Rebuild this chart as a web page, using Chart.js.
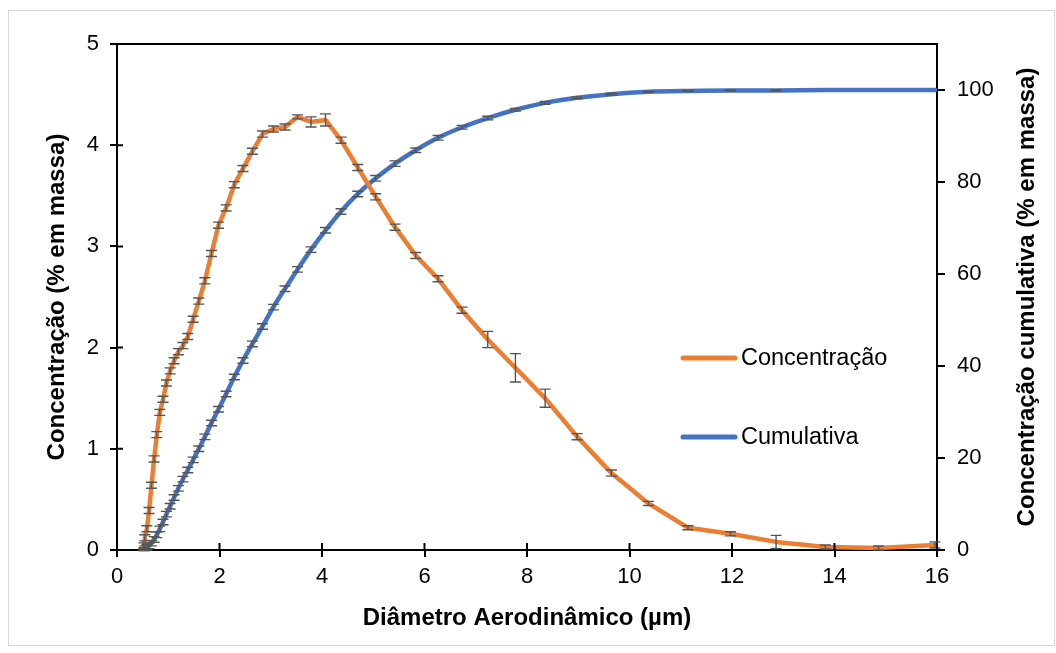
<!DOCTYPE html>
<html>
<head>
<meta charset="utf-8">
<script src="https://cdn.jsdelivr.net/npm/chart.js@4.4.0/dist/chart.umd.min.js"></script>
<style>
html,body{margin:0;padding:0;background:#fff;}
canvas{display:block;}
</style>
</head>
<body>
<canvas id="c" width="1056" height="653" style="width:1056px;height:653px"></canvas>
<script>
// ---- data ----
const diameters = [0.523,0.542,0.583,0.626,0.673,0.723,0.777,0.835,0.898,0.965,1.037,1.114,1.197,1.286,1.382,1.486,1.596,1.715,1.843,1.981,2.129,2.288,2.458,2.642,2.839,3.051,3.278,3.523,3.786,4.068,4.371,4.698,5.048,5.425,5.829,6.264,6.732,7.234,7.774,8.354,8.977,9.647,10.37,11.14,11.97,12.86,13.82,14.86,15.96];
const concentration = [0.04,0.12,0.21,0.39,0.64,0.90,1.14,1.36,1.49,1.65,1.77,1.87,1.96,2.02,2.11,2.28,2.46,2.66,2.93,3.21,3.38,3.61,3.77,3.94,4.11,4.16,4.18,4.28,4.23,4.25,4.05,3.78,3.49,3.19,2.91,2.68,2.37,2.08,1.80,1.50,1.12,0.76,0.46,0.22,0.16,0.08,0.03,0.02,0.05];
const concentrationError = [0.03,0.03,0.03,0.03,0.03,0.03,0.03,0.03,0.03,0.03,0.03,0.03,0.03,0.03,0.03,0.03,0.03,0.03,0.03,0.03,0.03,0.03,0.03,0.03,0.03,0.03,0.03,0.02,0.05,0.06,0.03,0.03,0.03,0.03,0.03,0.03,0.03,0.08,0.14,0.09,0.03,0.03,0.02,0.02,0.02,0.065,0.02,0.02,0.03];
const cumulative = [0.2,0.4,0.6,0.9,1.5,2.3,3.3,4.6,6.1,7.8,9.5,11.4,13.4,15.4,17.4,19.6,22.0,24.6,27.6,30.6,33.9,37.6,41.2,44.8,48.6,52.8,56.8,61.0,65.3,69.5,73.6,77.4,80.8,84.0,86.9,89.6,91.9,93.9,95.7,97.2,98.3,99.1,99.6,99.8,99.9,99.9,100,100,100];
const cumulativeError = [0.3,0.5,0.6,0.6,0.6,0.6,0.6,0.6,0.6,0.6,0.6,0.6,0.6,0.6,0.6,0.6,0.6,0.6,0.6,0.6,0.6,0.6,0.6,0.6,0.6,0.6,0.6,0.6,0.6,0.6,0.6,0.6,0.6,0.6,0.5,0.5,0.4,0.4,0.3,0.3,0.2,0.2,0.1,0.1,0.1,0.1,0,0,0];
const xTicks = [0,2,4,6,8,10,12,14,16];
const leftTicks = [0,1,2,3,4,5];
const rightTicks = [0,20,40,60,80,100];
const seriesLabels = ['Concentração','Cumulativa'];
const xTitle = 'Diâmetro Aerodinâmico (µm)';
const leftTitle = 'Concentração (% em massa)';
const rightTitle = 'Concentração cumulativa (% em massa)';

const FAMILY = "'Liberation Sans', Arial, sans-serif";
const TICK_FONT = {family: FAMILY, size: 22};
const TITLE_FONT = {family: FAMILY, size: 24, weight: 'bold', lineHeight: 1.2};

const errorBarPlugin = {
  id: 'errorBars',
  afterDatasetsDraw(chart) {
    const ctx = chart.ctx;
    chart.data.datasets.forEach((ds, i) => {
      const meta = chart.getDatasetMeta(i);
      const xs = chart.scales[meta.xAxisID], ys = chart.scales[meta.yAxisID];
      ctx.save();
      ctx.strokeStyle = '#555555';
      ctx.lineWidth = 1.4;
      ds.data.forEach((p, j) => {
        const e = ds.errors[j];
        if (!e) return;
        const x = xs.getPixelForValue(p.x);
        const y1 = ys.getPixelForValue(p.y - e), y2 = ys.getPixelForValue(p.y + e);
        ctx.beginPath();
        ctx.moveTo(x, y1); ctx.lineTo(x, y2);
        ctx.moveTo(x - 5.5, y1); ctx.lineTo(x + 5.5, y1);
        ctx.moveTo(x - 5.5, y2); ctx.lineTo(x + 5.5, y2);
        ctx.stroke();
      });
      ctx.restore();
    });
  }
};

const framePlugin = {
  id: 'frame',
  beforeDraw(chart) {
    const ctx = chart.ctx;
    ctx.save();
    ctx.fillStyle = '#fff';
    ctx.fillRect(0, 0, chart.width, chart.height);
    ctx.strokeStyle = '#d9d9d9';
    ctx.lineWidth = 1;
    ctx.strokeRect(8.5, 10.5, 1046, 635);
    ctx.restore();
  },
  afterDraw(chart) {
    const ctx = chart.ctx;
    const a = chart.chartArea;
    ctx.save();
    ctx.strokeStyle = '#000';
    ctx.lineWidth = 2;
    // top frame line
    ctx.beginPath();
    ctx.moveTo(a.left - 7, a.top); ctx.lineTo(a.right, a.top);
    ctx.stroke();
    // inner halves of crossing ticks
    const xs = chart.scales.x, ys = chart.scales.y;
    ctx.beginPath();
    xs.ticks.forEach(t => { const x = xs.getPixelForValue(t.value); ctx.moveTo(x, a.bottom); ctx.lineTo(x, a.bottom - 7); });
    ys.ticks.forEach(t => { const y = ys.getPixelForValue(t.value); ctx.moveTo(a.left, y); ctx.lineTo(a.left + 6, y); });
    ctx.stroke();
    // right axis title (reads bottom to top)
    ctx.fillStyle = '#000';
    ctx.font = 'bold 24px ' + FAMILY;
    ctx.textAlign = 'center';
    ctx.textBaseline = 'middle';
    ctx.translate(1027, (a.top + a.bottom) / 2);
    ctx.rotate(-Math.PI / 2);
    ctx.fillText(rightTitle, 0, 0);
    ctx.restore();
    // legend
    ctx.save();
    const legendY = [358, 437];
    chart.data.datasets.forEach((ds, i) => {
      ctx.strokeStyle = ds.borderColor;
      ctx.lineWidth = 5;
      ctx.lineCap = 'round';
      ctx.beginPath();
      ctx.moveTo(683, legendY[i]); ctx.lineTo(735, legendY[i]);
      ctx.stroke();
      ctx.fillStyle = '#000';
      ctx.font = '23.5px ' + FAMILY;
      ctx.textAlign = 'left';
      ctx.textBaseline = 'middle';
      ctx.fillText(ds.label, 741, legendY[i] + 1);
    });
    ctx.restore();
  }
};

new Chart(document.getElementById('c'), {
  type: 'line',
  data: {
    datasets: [
      {
        label: seriesLabels[0],
        data: diameters.map((d, i) => ({x: d, y: concentration[i]})),
        errors: concentrationError,
        yAxisID: 'y',
        borderColor: '#ED7D31',
        borderWidth: 4.5,
        pointRadius: 0,
        tension: 0,
        fill: false,
        borderJoinStyle: 'round',
        borderCapStyle: 'round'
      },
      {
        label: seriesLabels[1],
        data: diameters.map((d, i) => ({x: d, y: cumulative[i]})),
        errors: cumulativeError,
        yAxisID: 'y2',
        borderColor: '#4472C4',
        borderWidth: 4.5,
        pointRadius: 0,
        cubicInterpolationMode: 'monotone',
        fill: false,
        borderJoinStyle: 'round',
        borderCapStyle: 'round'
      }
    ]
  },
  options: {
    responsive: false,
    animation: false,
    devicePixelRatio: 1,
    layout: {padding: {top: 44, left: 0, right: 0, bottom: 0}},
    plugins: {legend: {display: false}, tooltip: {enabled: false}},
    scales: {
      x: {
        type: 'linear', position: 'bottom', min: 0, max: 16,
        afterBuildTicks: s => { s.ticks = xTicks.map(v => ({value: v})); },
        afterFit: s => { s.height = 103; },
        ticks: {font: TICK_FONT, color: '#000', padding: 7, maxRotation: 0, autoSkip: false},
        grid: {drawOnChartArea: false, color: '#000', lineWidth: 2, tickLength: 7},
        border: {color: '#000', width: 2},
        title: {display: true, text: xTitle, font: TITLE_FONT, color: '#000', padding: {top: 0, bottom: 20.6}}
      },
      y: {
        type: 'linear', position: 'left', min: 0, max: 5,
        afterBuildTicks: s => { s.ticks = leftTicks.map(v => ({value: v})); },
        afterFit: s => { s.width = 117; },
        ticks: {font: TICK_FONT, color: '#000', padding: 11, autoSkip: false},
        grid: {drawOnChartArea: false, color: '#000', lineWidth: 2, tickLength: 7},
        border: {color: '#000', width: 2},
        title: {display: true, text: leftTitle, font: TITLE_FONT, color: '#000', padding: {top: 42.6, bottom: 0}}
      },
      y2: {
        type: 'linear', position: 'right', min: 0, max: 110,
        afterBuildTicks: s => { s.ticks = rightTicks.map(v => ({value: v})); },
        afterFit: s => { s.width = 119; },
        ticks: {font: TICK_FONT, color: '#000', padding: 12, autoSkip: false},
        grid: {drawOnChartArea: false, color: '#000', lineWidth: 2, tickLength: 8},
        border: {color: '#000', width: 2},
        title: {display: false}
      }
    }
  },
  plugins: [framePlugin, errorBarPlugin]
});
</script>
</body>
</html>
